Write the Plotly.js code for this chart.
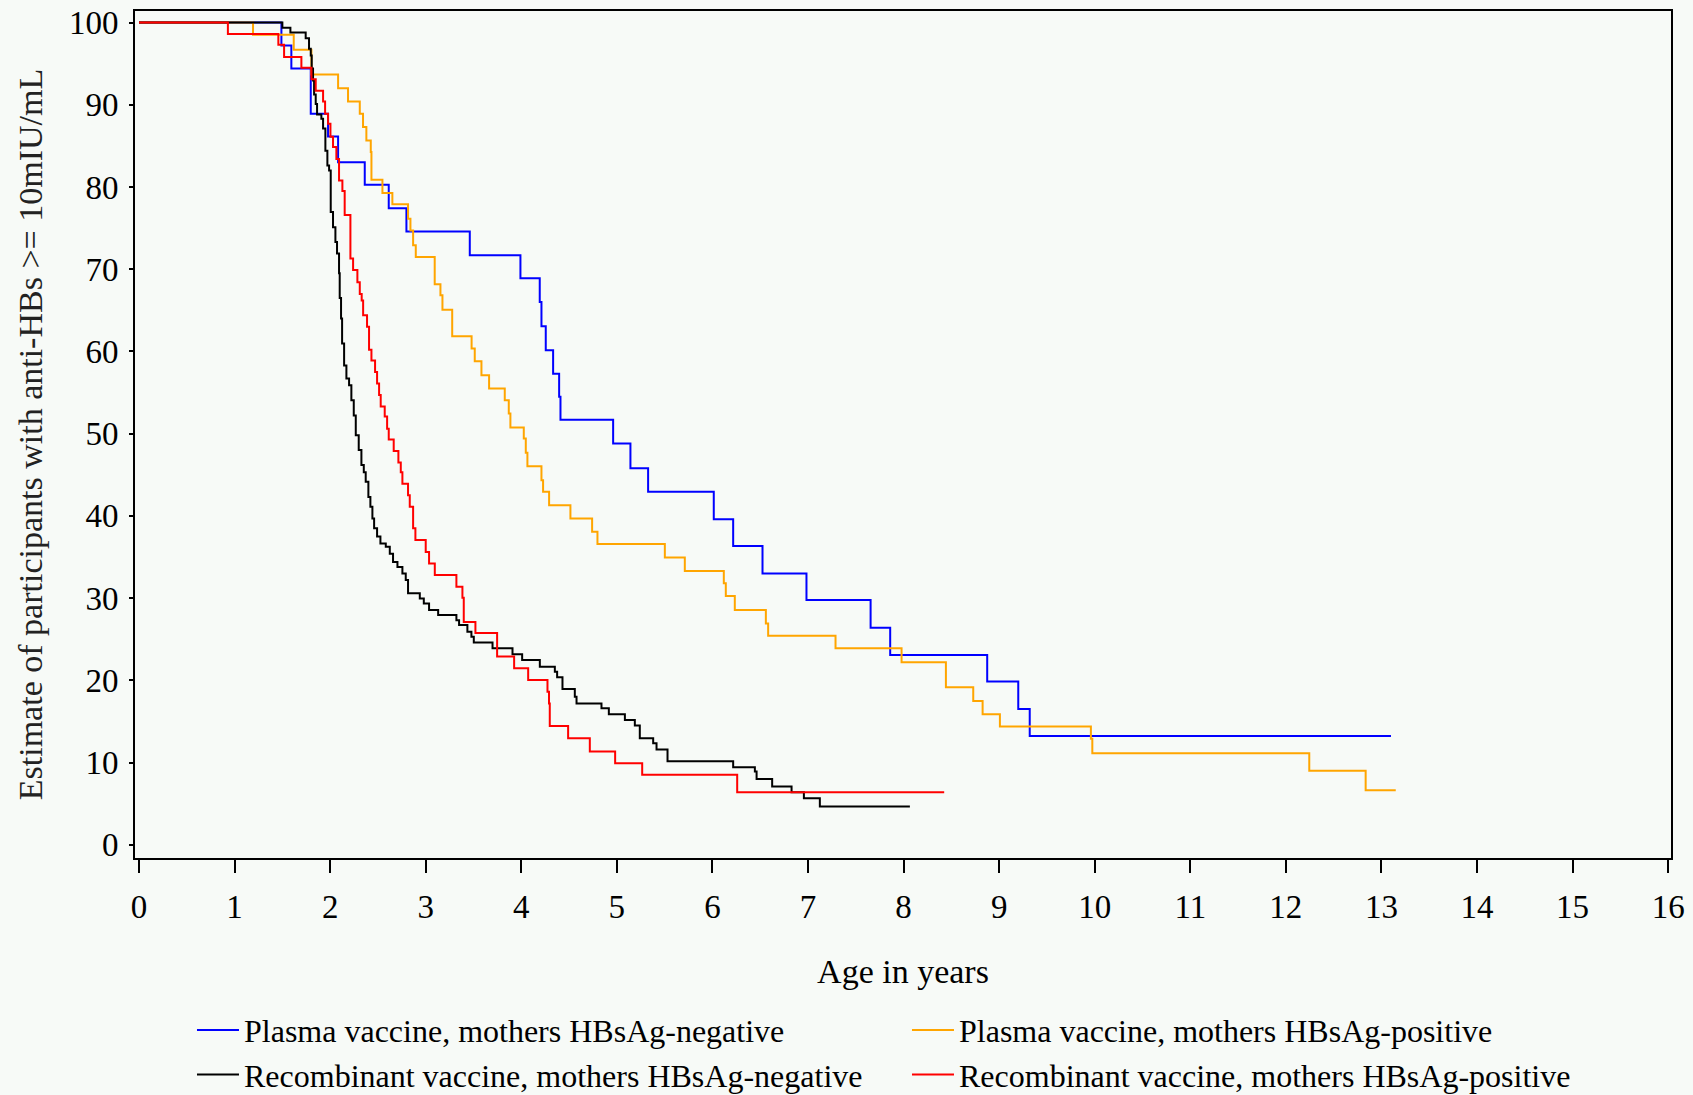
<!DOCTYPE html>
<html>
<head>
<meta charset="utf-8">
<script src="https://cdn.plot.ly/plotly-3.0.1.min.js"></script>
<style>
html,body{margin:0;padding:0;background:#f7faf7;}
#chart{width:1693px;height:1095px;}
</style>
</head>
<body>
<div id="chart"></div>
<script>
// ---- Data ----
const seriesNames = [
  "Plasma vaccine, mothers HBsAg-negative",
  "Plasma vaccine, mothers HBsAg-positive",
  "Recombinant vaccine, mothers HBsAg-negative",
  "Recombinant vaccine, mothers HBsAg-positive"
];
const seriesColors = ["#0000ff", "#ffa500", "#000000", "#ff0000"];

// Plasma vaccine, mothers HBsAg-negative (blue): event times (years) and estimate after each drop (%)
const plasmaNegTimes  = [1.49, 1.594, 1.797, 1.978, 2.083, 2.362, 2.613, 2.798, 3.461, 3.991, 4.193, 4.211, 4.256, 4.333, 4.396, 4.41, 4.961, 5.142, 5.327, 6.014, 6.217, 6.524, 6.984, 7.655, 7.86, 8.875, 9.2, 9.32];
const plasmaNegValues = [97.2, 94.4, 88.9, 86.15, 83.0, 80.27, 77.4, 74.6, 71.7, 68.9, 66.0, 63.06, 60.15, 57.3, 54.5, 51.7, 48.8, 45.8, 42.93, 39.6, 36.33, 33.0, 29.77, 26.4, 23.09, 19.85, 16.52, 13.24];
const plasmaNegEnd = 13.1;

// Plasma vaccine, mothers HBsAg-positive (orange)
const plasmaPosTimes  = [1.193, 1.619, 1.804, 2.083, 2.187, 2.31, 2.344, 2.379, 2.425, 2.432, 2.547, 2.651, 2.815, 2.84, 2.868, 2.896, 3.094, 3.154, 3.175, 3.277, 3.48, 3.513, 3.583, 3.663, 3.827, 3.869, 3.886, 4.026, 4.047, 4.064, 4.211, 4.228, 4.291, 4.514, 4.741, 4.797, 5.502, 5.711, 6.119, 6.14, 6.234, 6.559, 6.583, 7.288, 7.979, 8.443, 8.729, 8.827, 9.008, 9.96, 9.975, 12.245, 12.835];
const plasmaPosValues = [98.5, 96.7, 93.68, 92.02, 90.4, 88.9, 87.3, 85.66, 84.24, 80.88, 79.26, 77.9, 76.14, 74.72, 72.9, 71.48, 68.16, 66.83, 65.08, 61.85, 60.35, 58.8, 57.1, 55.49, 54.07, 52.45, 50.75, 49.4, 47.67, 46.05, 44.35, 42.93, 41.31, 39.7, 38.07, 36.57, 34.95, 33.29, 31.8, 30.26, 28.55, 26.93, 25.43, 23.9, 22.19, 19.16, 17.5, 15.88, 14.38, 12.9, 11.14, 9.0, 6.64];
const plasmaPosEnd = 13.15;

// Recombinant vaccine, mothers HBsAg-negative (black)
const recombNegTimes  = [1.50, 1.584, 1.744, 1.779, 1.797, 1.807, 1.821, 1.832, 1.849, 1.863, 1.908, 1.926, 1.95, 1.971, 1.989, 2.006, 2.03, 2.055, 2.072, 2.093, 2.1, 2.114, 2.125, 2.146, 2.17, 2.198, 2.222, 2.247, 2.268, 2.299, 2.327, 2.352, 2.372, 2.4, 2.421, 2.442, 2.46, 2.491, 2.526, 2.582, 2.624, 2.658, 2.704, 2.756, 2.791, 2.815, 2.938, 2.98, 3.035, 3.13, 3.321, 3.349, 3.436, 3.478, 3.503, 3.699, 3.908, 4.009, 4.194, 4.351, 4.375, 4.431, 4.56, 4.578, 4.839, 4.916, 5.084, 5.188, 5.24, 5.38, 5.415, 5.53, 6.217, 6.444, 6.462, 6.625, 6.828, 6.957, 7.124];
const recombNegValues = [99.35, 98.8, 98.1, 96.8, 96.0, 94.4, 92.95, 91.25, 90.1, 88.8, 88.3, 87.1, 84.4, 82.6, 82.0, 76.95, 75.1, 73.3, 71.9, 69.5, 66.5, 64.0, 60.96, 58.3, 56.7, 55.9, 54.07, 52.2, 49.8, 48.0, 46.2, 45.3, 44.15, 42.3, 41.1, 39.7, 38.5, 37.5, 36.65, 36.25, 35.4, 34.4, 33.8, 33.0, 32.2, 30.6, 29.97, 29.36, 28.55, 27.95, 27.3, 26.73, 25.9, 25.3, 24.6, 23.9, 23.17, 22.48, 21.67, 21.06, 20.37, 18.96, 18.0, 17.2, 16.6, 15.88, 15.19, 14.5, 12.96, 12.35, 11.6, 10.17, 9.44, 8.91, 8.02, 7.09, 6.4, 5.67, 4.66];
const recombNegEnd = 8.066;

// Recombinant vaccine, mothers HBsAg-positive (red)
const recombPosTimes  = [0.93, 1.458, 1.518, 1.699, 1.804, 1.849, 1.926, 1.947, 1.978, 2.003, 2.03, 2.065, 2.093, 2.128, 2.152, 2.212, 2.24, 2.285, 2.31, 2.33, 2.345, 2.386, 2.407, 2.432, 2.47, 2.491, 2.512, 2.529, 2.571, 2.596, 2.613, 2.665, 2.714, 2.739, 2.756, 2.815, 2.833, 2.868, 2.892, 3.0, 3.035, 3.095, 3.321, 3.384, 3.398, 3.52, 3.747, 3.925, 4.072, 4.274, 4.29, 4.298, 4.49, 4.717, 4.982, 5.265, 6.259];
const recombPosValues = [98.6, 97.3, 95.8, 94.5, 93.1, 91.7, 90.4, 88.9, 87.7, 86.1, 84.85, 83.4, 80.8, 79.5, 76.6, 71.3, 69.9, 68.4, 67.0, 66.2, 64.4, 63.0, 60.2, 58.9, 57.5, 56.1, 54.7, 53.3, 52.1, 50.6, 49.3, 47.9, 46.5, 45.3, 43.9, 42.5, 41.1, 38.5, 37.06, 35.6, 34.2, 32.8, 31.4, 30.05, 27.1, 25.75, 22.9, 21.47, 20.05, 18.63, 17.2, 14.46, 12.96, 11.34, 9.92, 8.51, 6.4];
const recombPosEnd = 8.425;

const xTickVals = [0,1,2,3,4,5,6,7,8,9,10,11,12,13,14,15,16];
const yTickVals = [0,10,20,30,40,50,60,70,80,90,100];
const xTitle = "Age in years";
const yTitle = "Estimate of participants with anti-HBs >= 10mIU/mL";

// ---- Build step curves ----
function stepTrace(times, values, endTime, name, color) {
  const x = [0].concat(times, [endTime]);
  const y = [100].concat(values, [values[values.length - 1]]);
  return {
    type: "scatter", mode: "lines", name: name, x: x, y: y,
    line: {shape: "hv", color: color, width: 2},
    hoverinfo: "skip"
  };
}

const traces = [
  stepTrace(plasmaNegTimes, plasmaNegValues, plasmaNegEnd, seriesNames[0], seriesColors[0]),
  stepTrace(plasmaPosTimes, plasmaPosValues, plasmaPosEnd, seriesNames[1], seriesColors[1]),
  stepTrace(recombNegTimes, recombNegValues, recombNegEnd, seriesNames[2], seriesColors[2]),
  stepTrace(recombPosTimes, recombPosValues, recombPosEnd, seriesNames[3], seriesColors[3])
];

const serif = "Liberation Serif, Times New Roman, serif";
const bg = "#f7faf7";

const layout = {
  width: 1693, height: 1095,
  paper_bgcolor: bg, plot_bgcolor: bg,
  margin: {l: 135, r: 22, t: 11, b: 237, pad: 0},
  font: {family: serif, color: "#000", size: 30},
  showlegend: true,
  xaxis: {
    range: [-0.042, 16.03], tickvals: xTickVals, ticktext: xTickVals.map(String),
    showgrid: false, zeroline: false,
    showline: true, linecolor: "#000", linewidth: 2, mirror: true,
    ticks: "outside", ticklen: 13, tickwidth: 2, tickcolor: "#000",
    ticklabelstandoff: 5,
    tickfont: {family: serif, size: 33, color: "#000"},
    title: {text: xTitle, font: {family: serif, size: 34, color: "#000"}, standoff: 36}
  },
  yaxis: {
    range: [-1.6, 101.4], tickvals: yTickVals, ticktext: yTickVals.map(String),
    showgrid: false, zeroline: false,
    showline: true, linecolor: "#000", linewidth: 2, mirror: true,
    ticks: "outside", ticklen: 4, tickwidth: 2, tickcolor: "#000",
    ticklabelstandoff: 4,
    tickfont: {family: serif, size: 33, color: "#000"},
    title: {text: yTitle, font: {family: serif, size: 34, color: "#222"}, standoff: 16}
  },
  legend: {
    orientation: "h", xref: "container", yref: "container",
    x: 0.1134, xanchor: "left", y: 0.0844, yanchor: "top",
    entrywidth: 658, entrywidthmode: "pixels",
    itemwidth: 42, traceorder: "normal",
    bgcolor: "rgba(0,0,0,0)", borderwidth: 0,
    font: {family: serif, size: 32, color: "#000"}
  }
};

Plotly.newPlot("chart", traces, layout, {displayModeBar: false, staticPlot: true});
</script>
</body>
</html>
